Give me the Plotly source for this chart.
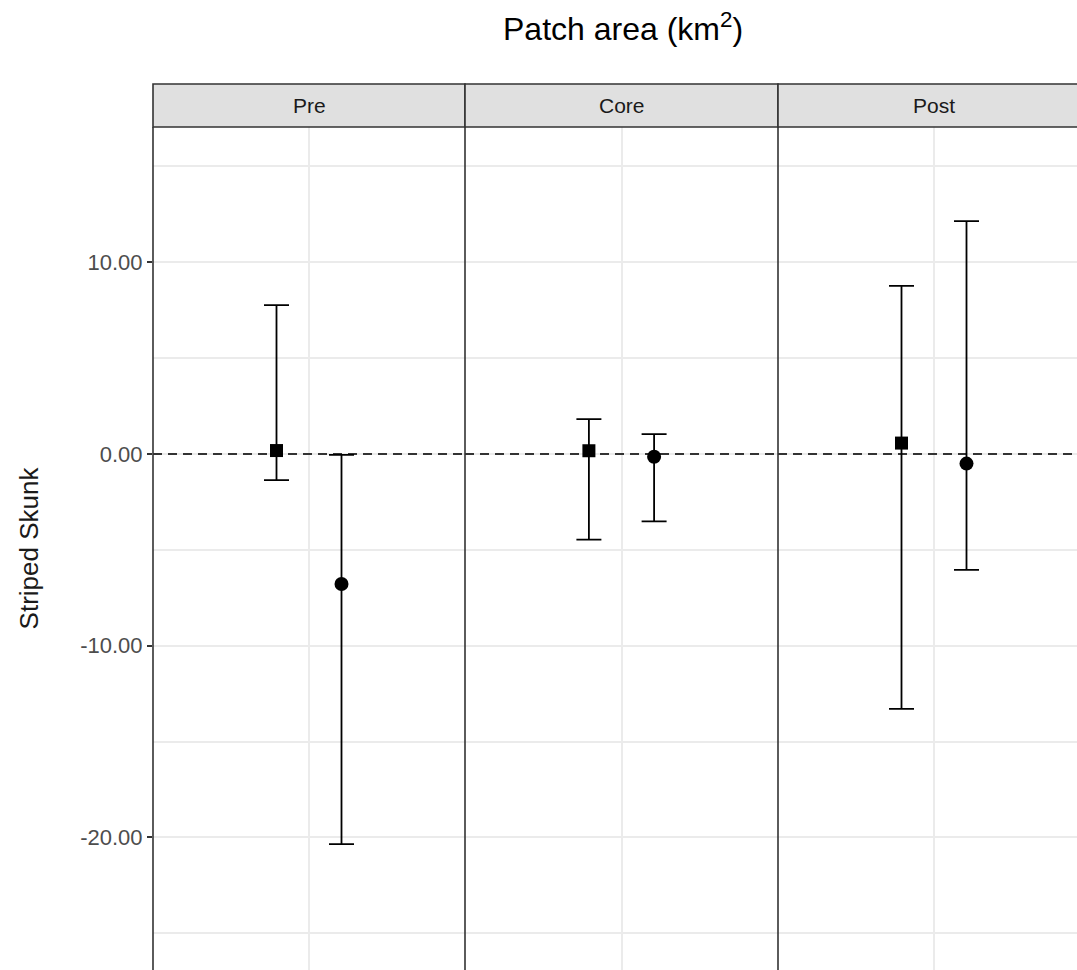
import plotly.graph_objects as go

# ---- data ----
periods = ["Pre", "Core", "Post"]
square_est = [0.18, 0.17, 0.57]
square_lo = [-1.36, -4.47, -13.30]
square_hi = [7.77, 1.82, 8.77]
circle_est = [-6.78, -0.14, -0.50]
circle_lo = [-20.35, -3.51, -6.05]
circle_hi = [-0.05, 1.04, 12.15]
reference_value = 0
y_tickvals = [-20, -10, 0, 10]
y_ticktext = ["-20.00", "-10.00", "0.00", "10.00"]

W, H = 1077, 970
ML, MT = 153, 127
PW = W - ML  # 924
PH = H - MT  # 843
panel_px = [(153, 465), (465, 778), (778, 1090)]
dodge = 0.125
font = "Liberation Sans, Arial, sans-serif"

fig = go.Figure()

xranges = []
for i, p in enumerate(periods):
    x0, x1 = panel_px[i]
    visible = (min(x1, W) - x0) / (x1 - x0)
    xranges.append([0.4, 0.4 + 1.2 * visible])

for i, p in enumerate(periods):
    ax = "" if i == 0 else str(i + 1)
    xa = "x" + ax
    ya = "y" + ax
    # dashed reference line (drawn first, beneath the points)
    fig.add_trace(go.Scatter(
        x=xranges[i], y=[reference_value, reference_value], xaxis=xa, yaxis=ya,
        mode="lines", line=dict(color="#333333", width=2, dash="9px,6px"),
        showlegend=False, hoverinfo="skip"))
    fig.add_trace(go.Scatter(
        x=[1 - dodge], y=[square_est[i]], xaxis=xa, yaxis=ya, mode="markers",
        marker=dict(symbol="square", size=13, color="black"),
        error_y=dict(type="data", symmetric=False,
                     array=[square_hi[i] - square_est[i]],
                     arrayminus=[square_est[i] - square_lo[i]],
                     color="black", thickness=1.8, width=12.5),
        showlegend=False, hoverinfo="skip"))
    fig.add_trace(go.Scatter(
        x=[1 + dodge], y=[circle_est[i]], xaxis=xa, yaxis=ya, mode="markers",
        marker=dict(symbol="circle", size=14, color="black"),
        error_y=dict(type="data", symmetric=False,
                     array=[circle_hi[i] - circle_est[i]],
                     arrayminus=[circle_est[i] - circle_lo[i]],
                     color="black", thickness=1.8, width=12.5),
        showlegend=False, hoverinfo="skip"))

layout = dict(
    width=W, height=H,
    margin=dict(l=ML, r=0, t=MT, b=0, pad=0),
    plot_bgcolor="white", paper_bgcolor="white",
    font=dict(family=font, color="#1A1A1A"),
    showlegend=False,
)

yrange = [-26.92, 17.06]
shapes = []
annotations = []
for i, p in enumerate(periods):
    x0, x1 = panel_px[i]
    d0 = (x0 - ML) / PW
    d1 = min((x1 - ML) / PW, 1.0)
    key = "" if i == 0 else str(i + 1)
    layout["xaxis" + key] = dict(
        domain=[d0, d1], range=xranges[i], tickvals=[1], showticklabels=False,
        ticks="", showgrid=True, gridcolor="#EBEBEB", gridwidth=1.5,
        zeroline=False, showline=False, fixedrange=True,
        anchor="y" + key)
    ydict = dict(
        domain=[0, 1], range=yrange, tickvals=y_tickvals,
        showgrid=True, gridcolor="#EBEBEB", gridwidth=1.5, zeroline=False,
        minor=dict(dtick=5, tick0=0, showgrid=True, gridcolor="#EBEBEB", gridwidth=1.5),
        showline=False, anchor="x" + key, fixedrange=True)
    if i == 0:
        ydict.update(ticktext=y_ticktext, ticks="outside", ticklen=5,
                     tickcolor="#333333", tickwidth=1.5,
                     tickfont=dict(size=22, color="#4D4D4D", family=font),
                     title=dict(text="Striped Skunk", standoff=34,
                                font=dict(size=26, color="#1A1A1A", family=font)))
    else:
        ydict.update(showticklabels=False, ticks="", matches="y")
    layout["yaxis" + key] = ydict

    # strip
    shapes.append(dict(type="rect", xref="paper", yref="paper",
                       x0=d0, x1=(x1 - ML) / PW, y0=1, y1=1 + 43 / PH,
                       fillcolor="#E0E0E0", line=dict(color="#333333", width=1.6),
                       layer="above"))
    annotations.append(dict(text=p, xref="paper", yref="paper",
                            x=((x0 + x1) / 2 - ML) / PW, y=1 + 21.5 / PH,
                            showarrow=False, xanchor="center", yanchor="middle",
                            font=dict(size=21, color="#1A1A1A", family=font)))
    # panel border (left)
    shapes.append(dict(type="line", xref="paper", yref="paper",
                       x0=d0, x1=d0, y0=0, y1=1,
                       line=dict(color="#333333", width=1.6), layer="above"))

layout["shapes"] = shapes
annotations.append(dict(text="Patch area (km<sup>2</sup>)", xref="paper", yref="paper",
                        x=(623 - ML) / PW, y=1 + (MT - 27) / PH,
                        showarrow=False, xanchor="center", yanchor="middle",
                        font=dict(size=32, color="black", family=font)))
layout["annotations"] = annotations
fig.update_layout(**layout)

fig.write_html("out.html", config={"displayModeBar": False},
               post_script="document.body.style.margin='0';document.body.style.overflow='hidden';")
